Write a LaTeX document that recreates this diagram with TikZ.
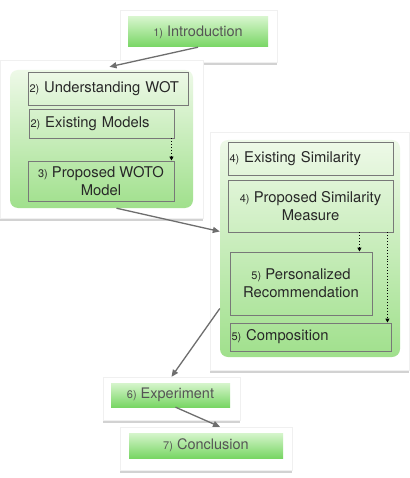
\documentclass[tikz,border=0pt]{standalone}
\usepackage{fontspec}
\setmainfont{TeX Gyre Heros}
\definecolor{BarTop}   {RGB}{214,245,204}
\definecolor{BarBot}   {RGB}{120,214,100}
\definecolor{PanTop}   {RGB}{238,249,232}
\definecolor{PanBot}   {RGB}{160,224,140}
\definecolor{BoxLine}  {RGB}{120,120,120}
\definecolor{TxtDark}  {RGB}{40,40,40}
\definecolor{TxtGray}  {RGB}{85,85,85}
\definecolor{ArrGray}  {RGB}{110,110,110}
\usetikzlibrary{arrows.meta,positioning,calc,shadows}
\newcommand{\numsm}[1]{{\fontsize{11}{13}\selectfont #1}}

\begin{document}
\begin{tikzpicture}[x=1pt,y=-1pt,
    every node/.style={font=\fontsize{14.8}{18}\selectfont,inner sep=1.5pt},
    card/.style={draw=gray!12,fill=white,rectangle,
        drop shadow={opacity=0.35,shadow xshift=0pt,shadow yshift=-3pt}},
    bar/.style={top color=BarTop,bottom color=BarBot,draw=none,
        text=TxtGray,font=\fontsize{14.5}{17}\selectfont},
    panel/.style={top color=PanTop,bottom color=PanBot,draw=none,
        rounded corners=8pt},
    item/.style={draw=BoxLine,line width=0.9pt,text=TxtDark,align=left},
    flow/.style={-{Triangle[length=7pt,width=6pt]},ArrGray,line width=1.3pt},
    dep/.style={-{Triangle[length=4pt,width=4pt]},black,dotted,line width=0.9pt}]
  \path[use as bounding box,fill=white] (0,0) rectangle (409,478);

  % intro card
  \node[card,minimum width=157pt,minimum height=52pt] (introcard) at (198.5,36) {};
  \node[bar,minimum width=140pt,minimum height=30pt] (intro) at (198,32)
    {\numsm{1)} Introduction};

  % left group
  \node[card,minimum width=203pt,minimum height=158pt] (leftcard) at (101.5,139) {};
  \node[panel,minimum width=183pt,minimum height=138pt] (leftpanel) at (101.5,139) {};
  \node[item,minimum width=160pt,minimum height=33pt,text width=157pt] (understand) at (108,88.5)
    {\numsm{2)} Understanding WOT};
  \node[item,minimum width=145pt,minimum height=29pt,text width=142pt] (existmodels) at (101.5,123.5)
    {\numsm{2)} Existing Models};
  \node[item,minimum width=146pt,minimum height=40pt,align=center] (propwoto) at (101,181)
    {\numsm{3)} Proposed WOTO\\Model};

  % right group
  \node[card,minimum width=199pt,minimum height=238pt] (rightcard) at (309.5,251) {};
  \node[panel,minimum width=180pt,minimum height=217pt] (rightpanel) at (310,248.5) {};
  \node[item,minimum width=165pt,minimum height=33pt,text width=162pt] (existsim) at (310.5,158.5)
    {\numsm{4)} Existing Similarity};
  \node[item,minimum width=165pt,minimum height=52pt,align=center] (propsim) at (310.5,206)
    {\numsm{4)} Proposed Similarity\\Measure};
  \node[item,minimum width=142pt,minimum height=63pt,align=center] (personal) at (301,283.5)
    {\numsm{5)} Personalized\\Recommendation};
  \node[item,minimum width=161pt,minimum height=28pt,text width=158pt] (compose) at (310.5,337)
    {\numsm{5)} Composition};

  % experiment + conclusion
  \node[card,minimum width=137pt,minimum height=43pt] (expcard) at (171.5,398.5) {};
  \node[bar,minimum width=119pt,minimum height=24pt] (experiment) at (170.5,395)
    {\numsm{6)} Experiment};
  \node[card,minimum width=172pt,minimum height=43pt] (conccard) at (206,448.5) {};
  \node[bar,minimum width=154pt,minimum height=25pt] (conclusion) at (206,445.5)
    {\numsm{7)} Conclusion};

  % flow arrows
  \draw[flow] (intro.south) -- ([xshift=8pt,yshift=-7pt]leftcard.north);
  \draw[flow] ([xshift=15pt]leftpanel.south) -- ([yshift=17pt]rightpanel.west);
  \draw[flow] ([yshift=-60pt]rightpanel.west) -- (expcard.north);
  \draw[flow] ([xshift=5pt]experiment.south) -- ([xshift=14pt]conccard.north);

  % dependencies
  \draw[dep] ([xshift=-3pt]existmodels.south east) -- ([xshift=-3pt]propwoto.north east);
  \draw[dep] ([xshift=-34pt]propsim.south east) -- ([xshift=-13pt]personal.north east);
  \draw[dep] ([xshift=-6pt]propsim.south east) -- ([xshift=-4pt]compose.north east);
\end{tikzpicture}
\end{document}
